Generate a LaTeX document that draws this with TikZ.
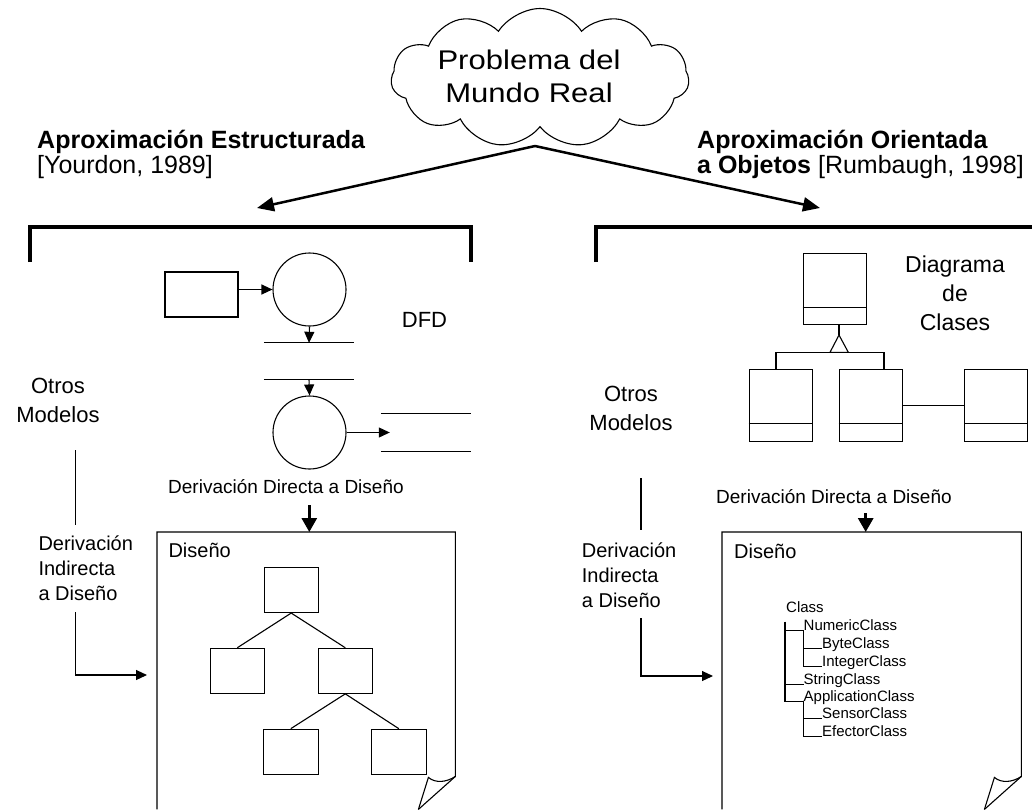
\documentclass[tikz,border=0pt]{standalone}
\usepackage{fontspec}
\setmainfont{Liberation Sans}
\usetikzlibrary{arrows.meta,shapes.symbols,calc}

\begin{document}
\begin{tikzpicture}[x=1pt,y=-1pt,
  line/.style={line width=1.1pt},
  box/.style={draw,line width=1.1pt,inner sep=0pt},
  proc/.style={circle,draw,line width=1.1pt,minimum size=73pt,inner sep=0pt},
  cls/.style={draw,line width=1.1pt,inner sep=0pt,minimum width=63pt},
  store/.style={inner sep=0pt,minimum width=90pt,minimum height=36pt},
  docpage/.style={inner sep=0pt,anchor=north west},
  lbl/.style={inner sep=0pt,anchor=base west},
  bigtxt/.style={font=\fontsize{27}{33}\selectfont\addfontfeatures{FakeStretch=1.15}},
  headtxt/.style={font=\fontsize{25}{25}\selectfont},
  boldtxt/.style={font=\bfseries\fontsize{25}{25}\selectfont},
  midtxt/.style={font=\fontsize{22}{29}\selectfont},
  smalltxt/.style={font=\fontsize{20}{25}\selectfont},
  dirtxt/.style={font=\fontsize{19}{24}\selectfont},
  treetxt/.style={font=\fontsize{15}{18}\selectfont},
  flow/.style={line width=1.1pt,-{Triangle[length=11pt,width=10pt]}},
  mainarrow/.style={line width=2.5pt,-{Triangle[length=17pt,width=14pt]}},
  direct/.style={line width=3pt,-{Triangle[length=14pt,width=15pt]}},
  bracket/.style={line width=4pt}]

\fill[white] (0,0) rectangle (1032,809);
\useasboundingbox (0,0) rectangle (1032,809);

% problem cloud
\node[cloud,draw,line width=1.1pt,cloud puffs=11,cloud puff arc=115,
      cloud ignores aspect,minimum width=298pt,minimum height=139pt,inner sep=0pt]
      (cloud) at (540,78) {};
\node[bigtxt,align=center,inner sep=0pt] (probtxt) at (529,76) {Problema del\\Mundo Real};

% the two approaches
\coordinate (split) at (535,146);
\coordinate (lefttip) at (257,208);
\coordinate (righttip) at (820,208);
\draw[mainarrow] (split) -- (lefttip);
\draw[mainarrow] (split) -- (righttip);

\node[boldtxt,lbl] (h1) at (37,148) {Aproximación Estructurada};
\node[headtxt,lbl] (h1b) at (37,173) {[Yourdon, 1989]};
\node[boldtxt,lbl] (h2) at (697,148) {Aproximación Orientada};
\node[headtxt,lbl] (h2b) at (697,173) {\textbf{a Objetos} [Rumbaugh, 1998]};

\draw[bracket] (30,262) -- (30,227) -- (471,227) -- (471,262);
\draw[bracket] (596,262) -- (596,227) -- (1034,227);

% ---------- structured side: DFD ----------
\node[box,minimum width=73pt,minimum height=45pt] (ext) at (201.5,294.5) {};
\node[proc] (p1) at (309.5,289.5) {};
\node[store] (s1) at (309,361) {};
\node[proc] (p2) at (309.5,432.5) {};
\node[store,minimum height=37pt] (s2) at (426,432.5) {};
\foreach \s in {s1,s2}
  \draw[line] (\s.north west) -- (\s.north east) (\s.south west) -- (\s.south east);
\draw[flow] (ext.east |- p1.west) -- (p1.west);
\draw[flow] (p1.south) -- (s1.north);
\draw[flow] (s1.south) -- (p2.north);
\draw[flow] (p2.east) -- ([xshift=9pt]s2.west);
\node[midtxt,lbl] (dfd) at (401.7,327) {DFD};

\node[midtxt,align=center,inner sep=0pt,anchor=north] (otros1) at (58,378) {Otros\\Modelos};

% ---------- object oriented side: class diagram ----------
\node[cls,minimum height=70.7pt] (c0) at (834.7,288.7) {};
\node[cls,minimum height=72.4pt] (c1) at (780.7,405.5) {};
\node[cls,minimum height=72.4pt] (c2) at (870.7,405.5) {};
\node[cls,minimum height=72.4pt] (c3) at (996.3,405.5) {};
\draw[line] ([yshift=17.3pt]c0.south west) -- ([yshift=17.3pt]c0.south east);
\foreach \c in {c1,c2,c3}
  \draw[line] ([yshift=18.4pt]\c.south west) -- ([yshift=18.4pt]\c.south east);
\coordinate (apex) at (839,335);
\coordinate (hl) at (776,352.3);
\coordinate (hr) at (884,352.3);
\draw[line] (apex |- c0.south) -- (apex);
\draw[line,line join=miter] (apex) -- (830,352.3) -- (848.3,352.3) -- cycle;
\draw[line] (hl |- c1.north) -- (hl) -- (hr) -- (hr |- c2.north);
\draw[line] (c2.east) -- (c3.west);
\node[font=\fontsize{23}{28.7}\selectfont,align=center,inner sep=0pt,anchor=north]
  (cdlbl) at (955,256) {Diagrama\\de\\Clases};

\node[midtxt,align=center,inner sep=0pt,anchor=north] (otros2) at (631,386) {Otros\\Modelos};

% ---------- design pages ----------
\node[docpage,minimum width=298pt,minimum height=277pt] (d1) at (157,532) {};
\node[docpage,minimum width=299pt,minimum height=277pt] (d2) at (722,532) {};
\foreach \d in {d1,d2} {
  \draw[line,line join=miter] (\d.south west) -- (\d.north west) -- (\d.north east)
    -- ([yshift=33pt]\d.south east) -- ([xshift=-37pt]\d.south east);
  \draw[line] ([yshift=33pt]\d.south east)
    .. controls ([xshift=-9pt,yshift=27pt]\d.south east) and ([xshift=-20pt,yshift=26pt]\d.south east)
    .. ([xshift=-27pt,yshift=32pt]\d.south east) -- ([xshift=-37pt]\d.south east);
}
\node[smalltxt,lbl] (dis1) at (168.3,557.7) {Diseño};
\node[smalltxt,lbl] (dis2) at (734,558) {Diseño};

% direct derivation
\node[dirtxt,lbl] (dir1) at (168,493) {Derivación Directa a Diseño};
\node[dirtxt,lbl] (dir2) at (716,503) {Derivación Directa a Diseño};
\coordinate (dl) at (309.3,505);
\coordinate (dr) at (865.7,513);
\draw[direct] (dl) -- (dl |- d1.north);
\draw[direct] (dr) -- (dr |- d2.north);

% indirect derivation
\node[smalltxt,align=left,inner sep=0pt,anchor=north west] (ind1) at (38.3,536) {Derivación\\Indirecta\\a Diseño};
\node[smalltxt,align=left,inner sep=0pt,anchor=north west] (ind2) at (581.7,543) {Derivación\\Indirecta\\a Diseño};
\coordinate (la) at (75.7,450);
\coordinate (lb) at (75.7,525);
\coordinate (lc) at (75.7,612);
\coordinate (ld) at (147,675);
\draw[line] (la) -- (lb);
\draw[flow] (lc) |- (ld);
\coordinate (ra) at (641,478);
\coordinate (rb) at (641,530);
\coordinate (rc) at (641,618);
\coordinate (rd) at (713,676);
\draw[line] (ra) -- (rb);
\draw[flow] (rc) |- (rd);

% structure chart
\node[box,minimum width=54pt,minimum height=45pt] (t0) at (291.2,590) {};
\node[box,minimum width=54pt,minimum height=45pt] (t1) at (237.3,670.8) {};
\node[box,minimum width=54pt,minimum height=45pt] (t2) at (345.3,670.8) {};
\node[box,minimum width=55pt,minimum height=45pt] (t3) at (290.8,751.7) {};
\node[box,minimum width=55pt,minimum height=45pt] (t4) at (398.8,751.7) {};
\draw[line] (t0.south) -- (t1.north);
\draw[line] (t0.south) -- (t2.north);
\draw[line] (t2.south) -- (t3.north);
\draw[line] (t2.south) -- (t4.north);

% class hierarchy listing
\node[treetxt,lbl] (k0) at (786,612.7) {Class};
\node[treetxt,lbl] (k1) at (803.5,630.7) {NumericClass};
\node[treetxt,lbl] (k2) at (822,648.7) {ByteClass};
\node[treetxt,lbl] (k3) at (822,666.7) {IntegerClass};
\node[treetxt,lbl] (k4) at (803.5,684.7) {StringClass};
\node[treetxt,lbl] (k5) at (803.5,701.7) {ApplicationClass};
\node[treetxt,lbl] (k6) at (822,718.7) {SensorClass};
\node[treetxt,lbl] (k7) at (822,736.7) {EfectorClass};
\coordinate (trunk) at (785,621.7);
\draw[line] (trunk) |- (k5.base west);
\draw[line] (trunk |- k1.base) -- (k1.base west);
\draw[line] (trunk |- k4.base) -- (k4.base west);
\draw[line] (k1.base west) |- (k3.base west);
\draw[line] (k1.base west |- k2.base) -- (k2.base west);
\draw[line] (k5.base west) |- (k7.base west);
\draw[line] (k5.base west |- k6.base) -- (k6.base west);

\end{tikzpicture}
\end{document}
